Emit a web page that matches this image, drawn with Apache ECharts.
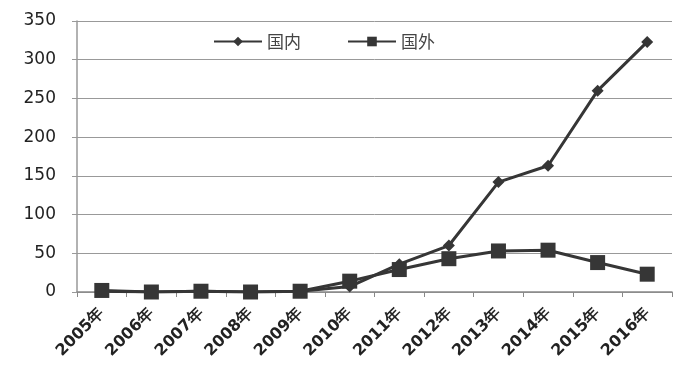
<!DOCTYPE html>
<html><head><meta charset="utf-8">
<script src="https://cdn.jsdelivr.net/npm/echarts@6/dist/echarts.min.js"></script>
<style>html,body{margin:0;padding:0;background:#fff}#c{width:696px;height:372px}</style>
</head><body><div id="c"></div>
<script>
const categories = ['2005年','2006年','2007年','2008年','2009年','2010年','2011年','2012年','2013年','2014年','2015年','2016年'];
const domestic = [1, 0, 1, 0, 1, 7, 36, 60, 142, 163, 260, 323];
const foreign = [2, 0, 1, 0, 1, 14, 29, 43, 53, 54, 38, 23];
const seriesNames = ['国内', '国外'];
const yTicks = {min: 0, max: 350, interval: 50};

const chart = echarts.init(document.getElementById('c'));
chart.setOption({
  animation: false,
  backgroundColor: '#fff',
  grid: {left: 77, right: 24, top: 21, bottom: 80},
  legend: {
    top: 28, left: 208,
    itemWidth: 48, itemHeight: 12, itemGap: 46,
    textStyle: {fontFamily: 'Noto Sans CJK SC', fontSize: 17, color: '#444'},
    data: seriesNames
  },
  xAxis: {
    type: 'category', data: categories, boundaryGap: true,
    axisLine: {lineStyle: {color: '#888', width: 1.5}},
    axisTick: {show: true, length: 5, lineStyle: {color: '#888'}},
    axisLabel: {rotate: 45, fontFamily: 'DejaVu Sans', fontSize: 16, fontWeight: 'bold', color: '#222', margin: 19, interval: 0}
  },
  yAxis: {
    type: 'value', min: yTicks.min, max: yTicks.max, interval: yTicks.interval,
    axisLine: {show: true, lineStyle: {color: '#999', width: 1.5}},
    axisTick: {show: true, length: 5, lineStyle: {color: '#999'}},
    splitLine: {lineStyle: {color: '#999', width: 1}},
    axisLabel: {fontFamily: 'DejaVu Sans', fontSize: 17, color: '#222', margin: 21}
  },
  series: [
    {name: seriesNames[0], type: 'line', data: domestic, symbol: 'diamond', symbolSize: 12,
     lineStyle: {color: '#363636', width: 3}, itemStyle: {color: '#363636'}},
    {name: seriesNames[1], type: 'line', data: foreign, symbol: 'rect', symbolSize: 15,
     lineStyle: {color: '#363636', width: 3}, itemStyle: {color: '#363636'}}
  ]
});
</script></body></html>
